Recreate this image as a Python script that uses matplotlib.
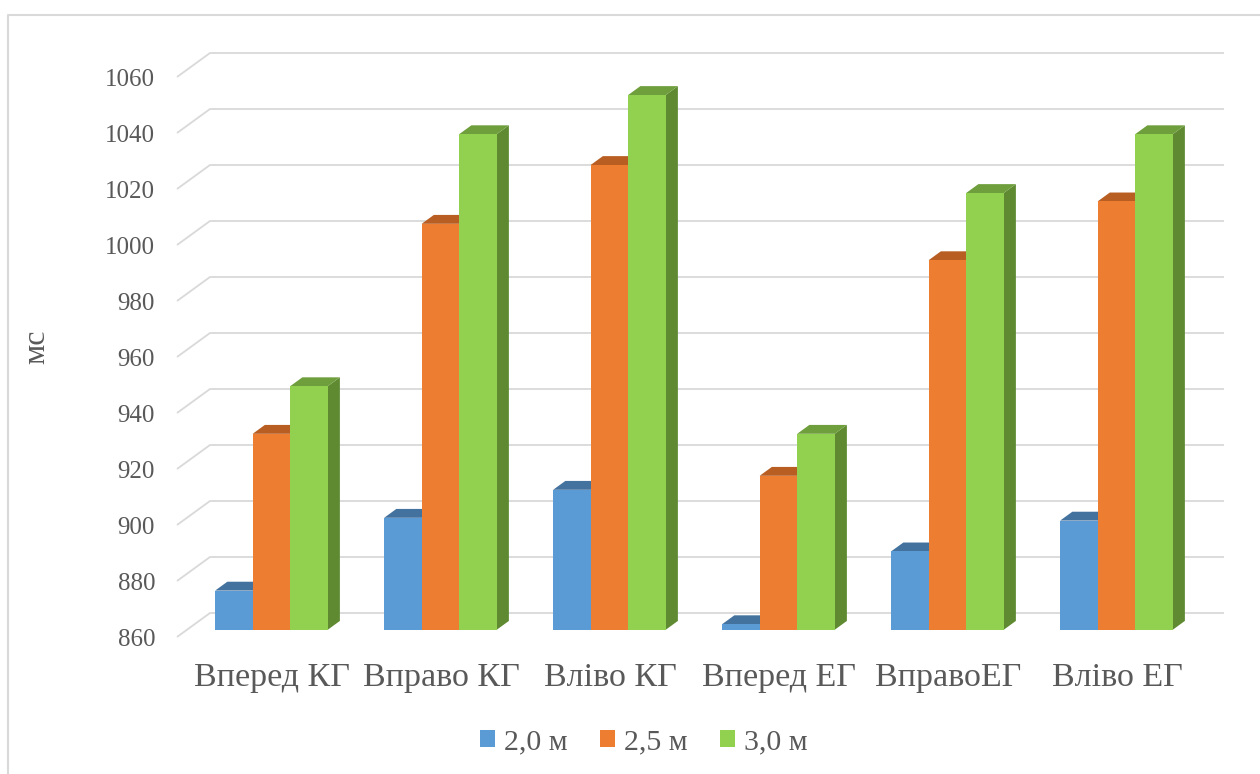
import matplotlib
matplotlib.use("Agg")
import matplotlib.pyplot as plt
from matplotlib.patches import Polygon, Patch
from matplotlib.lines import Line2D

# ---- data -------------------------------------------------------------
categories = ["Вперед КГ", "Вправо КГ", "Вліво КГ", "Вперед ЕГ", "ВправоЕГ", "Вліво ЕГ"]
series_names = ["2,0 м", "2,5 м", "3,0 м"]
values_20 = [874, 900, 910, 862, 888, 899]
values_25 = [930, 1005, 1026, 915, 992, 1013]
values_30 = [947, 1037, 1051, 930, 1016, 1037]
y_ticks = [860, 880, 900, 920, 940, 960, 980, 1000, 1020, 1040, 1060]
y_label = "мс"

# ---- styling ----------------------------------------------------------
front_colors = ["#5B9BD5", "#ED7D31", "#92D050"]
top_colors = ["#44729E", "#B95E22", "#6F9F3C"]
side_colors = ["#3F6A93", "#A95620", "#5F8A31"]
grid_color = "#D9D9D9"
text_color = "#595959"
serif = ["Liberation Serif", "DejaVu Serif"]

W_PX, H_PX = 1260, 774
fig = plt.figure(figsize=(W_PX / 100, H_PX / 100), dpi=100)
ax = fig.add_axes([0, 0, 1, 1])
ax.set_axis_off()

# oblique projection: x in category units, y in value units
px_per_cat = 169.0
px_per_val = 2.8
x_origin_px = 177.0
y_origin_px = 637.0
ymin = y_ticks[0]
ax.set_xlim(-x_origin_px / px_per_cat, (W_PX - x_origin_px) / px_per_cat)
ax.set_ylim(ymin - (H_PX - y_origin_px) / px_per_val, ymin + y_origin_px / px_per_val)

depth_dx = 33.0 / px_per_cat      # full floor depth, horizontal component
depth_dy = 24.0 / px_per_val      # full floor depth, vertical component
n_cat = len(categories)

# gridlines: short diagonal on the side wall, then along the back wall
for v in y_ticks:
    ax.add_line(Line2D([0, depth_dx, n_cat + depth_dx],
                       [v, v + depth_dy, v + depth_dy],
                       color=grid_color, lw=1.3, zorder=1,
                       solid_capstyle="butt"))
    ax.text(-0.13, v - 9 / px_per_val, f"{v}", ha="right", va="baseline",
            fontsize=18, color=text_color, family=serif)

# bars
series = [values_20, values_25, values_30]
bar_w = 0.222
d0, d1 = 0.30, 0.67                # bar depth span as fraction of floor depth
z = 2
for i in range(n_cat):
    start = i + 0.5 - 1.5 * bar_w
    for j, vals in enumerate(series):
        v = vals[i]
        x0 = start + j * bar_w + d0 * depth_dx
        x1 = x0 + bar_w
        b0 = ymin + d0 * depth_dy
        t0 = v + d0 * depth_dy
        ddx = (d1 - d0) * depth_dx
        ddy = (d1 - d0) * depth_dy
        side = Polygon([(x1, b0), (x1 + ddx, b0 + ddy), (x1 + ddx, t0 + ddy), (x1, t0)],
                       closed=True, facecolor=side_colors[j], edgecolor="none", zorder=z)
        top = Polygon([(x0, t0), (x1, t0), (x1 + ddx, t0 + ddy), (x0 + ddx, t0 + ddy)],
                      closed=True, facecolor=top_colors[j], edgecolor="none", zorder=z + 0.1)
        front = Polygon([(x0, b0), (x1, b0), (x1, t0), (x0, t0)],
                        closed=True, facecolor=front_colors[j], edgecolor="none", zorder=z + 0.2)
        for p in (side, top, front):
            ax.add_patch(p)
        z += 1

# category labels
for i, name in enumerate(categories):
    ax.text(i + 0.562, ymin - 49 / px_per_val, name, ha="center", va="baseline",
            fontsize=24.5, color=text_color, family=serif)

# axis title
fig.text(37 / W_PX, 1 - 347 / H_PX, y_label, rotation=90, ha="center", va="center",
         fontsize=23, color=text_color, family=serif)

# legend
handles = [Patch(facecolor=c, edgecolor="none", label=n) for c, n in zip(front_colors, series_names)]
fig.legend(handles=handles, loc="center", bbox_to_anchor=(0.511, 1 - 742 / H_PX),
           ncol=3, frameon=False, handlelength=0.5, handleheight=0.5,
           handletextpad=0.3, columnspacing=1.1,
           prop={"family": serif, "size": 21.5}, labelcolor=text_color)

# chart border (extends past the right and bottom edges)
ax.add_line(Line2D([8 / W_PX, 8 / W_PX, 1.01], [-0.01, 1 - 15 / H_PX, 1 - 15 / H_PX],
                   transform=fig.transFigure, color=grid_color, lw=1.5, zorder=0))

fig.savefig("out.png", dpi=100, facecolor="white")
